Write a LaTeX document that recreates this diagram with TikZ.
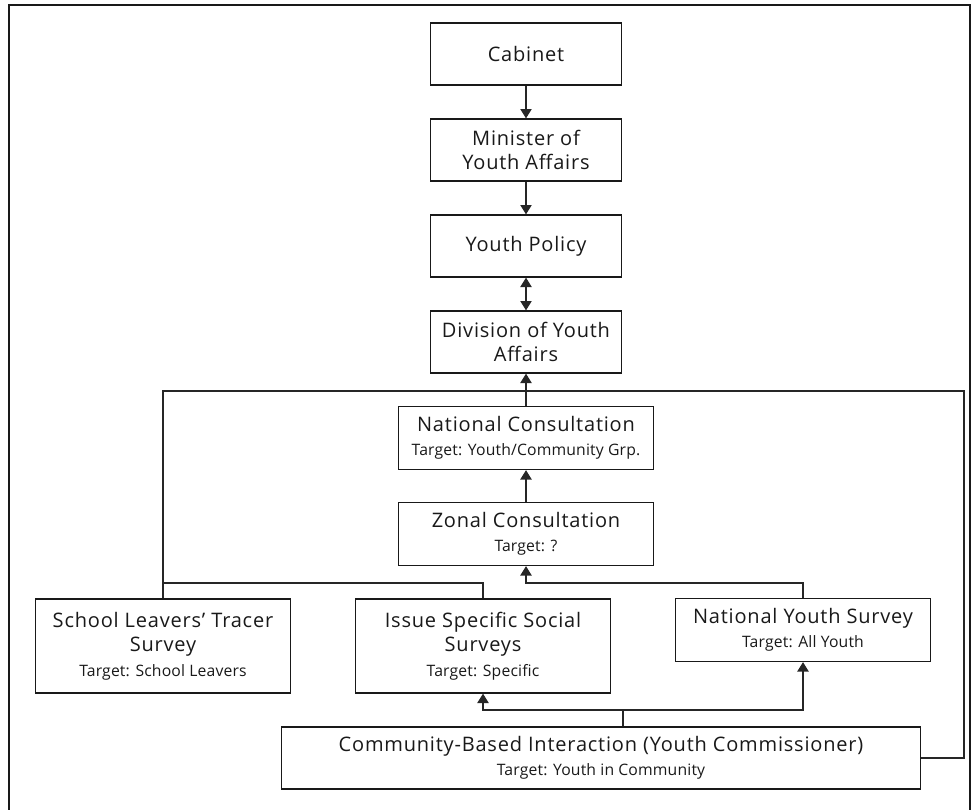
\documentclass[tikz,border=0pt]{standalone}
\usepackage{fontspec}
\setmainfont[LetterSpace=4]{Open Sans}
\newfontfamily\condfont[LetterSpace=1]{Open Sans}
\usetikzlibrary{arrows.meta}
\tikzset{
  x=0.75pt, y=-0.75pt,
  box/.style={draw=black!90, line width=1pt, align=center, inner sep=0pt,
    font=\fontsize{15}{18.4}\selectfont, text=black!90},
  conn/.style={draw=black!85, line width=0.8pt},
  arr/.style={conn, -{Triangle[width=8.5pt,length=7pt]}},
  darr/.style={conn, {Triangle[width=8.5pt,length=7pt]}-{Triangle[width=8.5pt,length=7pt]}},
}
\newcommand{\tgt}[1]{{\condfont\fontsize{11.8}{18.4}\selectfont #1}}
\begin{document}
\begin{tikzpicture}
\useasboundingbox (0,0) rectangle (978,810);
\draw[line width=2pt, black!90] (9,5) rectangle (970,830);

\node[box, minimum width=191*0.75pt, minimum height=62*0.75pt] (cab) at (526,54) {Cabinet};
\node[box, minimum width=191*0.75pt, minimum height=62*0.75pt] (min) at (526,150) {Minister of\\Youth Affairs};
\node[box, minimum width=191*0.75pt, minimum height=62*0.75pt] (pol) at (526,246) {Youth Policy};
\node[box, minimum width=191*0.75pt, minimum height=62*0.75pt] (div) at (526,342) {Division of Youth\\Affairs};
\node[box, minimum width=255*0.75pt, minimum height=63*0.75pt] (nat) at (526,438) {National Consultation\\\tgt{Target: Youth/Community Grp.}};
\node[box, minimum width=255*0.75pt, minimum height=63*0.75pt] (zon) at (526,534) {Zonal Consultation\\\tgt{Target: ?}};
\node[box, minimum width=255*0.75pt, minimum height=94*0.75pt] (sch) at (163,646) {School Leavers’ Tracer\\Survey\\\tgt{Target: School Leavers}};
\node[box, minimum width=255*0.75pt, minimum height=94*0.75pt] (iss) at (483,646) {Issue Specific Social\\Surveys\\\tgt{Target: Specific}};
\node[box, minimum width=255*0.75pt, minimum height=63*0.75pt] (nys) at (803,630) {National Youth Survey\\\tgt{Target: All Youth}};
\node[box, minimum width=639*0.75pt, minimum height=62*0.75pt] (com) at (601,758) {Community-Based Interaction (Youth Commissioner)\\\tgt{Target: Youth in Community}};

\draw[arr] (cab) -- (min);
\draw[arr] (min) -- (pol);
\draw[darr] (pol) -- (div);
\draw[arr] (nat) -- (div);
\draw[arr] (zon) -- (nat);

\coordinate (tl) at (163,391);
\coordinate (tr) at (964,391);
\coordinate (ml) at (163,583);
\coordinate (zr) at (526,583);
\coordinate (cj) at (623,710);

\draw[conn] (sch.north) -- (tl) -- (tr) |- (com.east);
\draw[conn] (iss.north) |- (ml);
\draw[arr] (nys.north) |- (zr) -- (zon.south);
\draw[conn] (com.north -| cj) -- (cj);
\draw[arr] (cj) -| (iss.south);
\draw[arr] (cj) -| (nys.south);
\end{tikzpicture}
\end{document}
